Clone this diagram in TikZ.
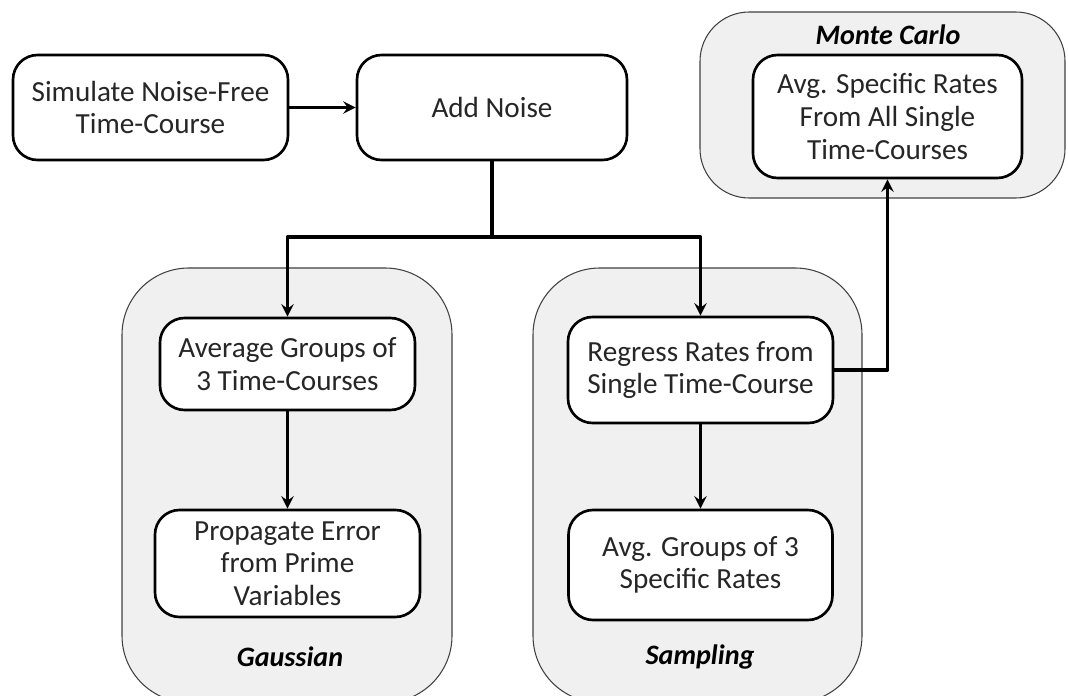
\documentclass[tikz,border=0pt]{standalone}
\usepackage{fontspec}
\setmainfont{Carlito}
\begin{document}
\begin{tikzpicture}[line join=round,>=stealth,
	font=\fontsize{16.6}{18.6}\selectfont,
	box/.style={draw,line width=1.5pt,rounded corners=14pt,fill=white,align=center,inner sep=2pt,text=black!85},
	group/.style={draw=black!75,line width=0.6pt,fill=black!6,rounded corners=38pt},
	conn/.style={line width=2.1pt},
	title/.style={font=\fontsize{16}{19}\selectfont\bfseries\itshape}]
		\useasboundingbox (0,0) rectangle (21.36,-13.92);
		% the three method groups
		\draw[group](2.44,-5.36) rectangle (9.04,-14.05);
		\draw[group](10.66,-5.36) rectangle (17.24,-14.05);
		\draw[group,rounded corners=28pt](14.0,-0.24) rectangle (21.3,-3.96);
		\node[title] (gausslbl) at (5.8,-13.14) {Gaussian};
		\node[title] (samplbl) at (14.0,-13.14) {Sampling};
		\node[title] (mclbl) at (17.76,-0.7) {Monte Carlo};
		% steps
		\node[box,minimum width=5.5cm,minimum height=2.1cm] (sim) at (3.01,-2.15) {Simulate Noise-Free\\Time-Course};
		\node[box,minimum width=5.4cm,minimum height=2.1cm] (noise) at (9.84,-2.15) {Add Noise};
		\node[box,minimum width=5.1cm,minimum height=1.84cm] (avg) at (5.75,-7.28) {Average Groups of\\3 Time-Courses};
		\node[box,minimum width=5.3cm,minimum height=2.14cm] (prop) at (5.75,-11.27) {Propagate Error\\from Prime\\Variables};
		\node[box,minimum width=5.3cm,minimum height=2.12cm] (regr) at (14.01,-7.4) {Regress Rates from\\Single Time-Course};
		\node[box,minimum width=5.28cm,minimum height=2.2cm] (avgsr) at (14.01,-11.3) {Avg. Groups of 3\\Specific Rates};
		\node[box,minimum width=5.38cm,minimum height=2.46cm] (mc) at (17.75,-2.33) {Avg. Specific Rates\\From All Single\\Time-Courses};
		\coordinate (split) at (9.84,-4.74);
		% connectors
		\draw[conn,->](sim)--(noise);
		\draw[conn](noise)--(split);
		\draw[conn,->](split)-|(avg);
		\draw[conn,->](split)-|(regr);
		\draw[conn,->](avg)--(prop);
		\draw[conn,->](regr)--(avgsr);
		\draw[conn,->](regr.east)-|(mc);
		\end{tikzpicture}
\end{document}
